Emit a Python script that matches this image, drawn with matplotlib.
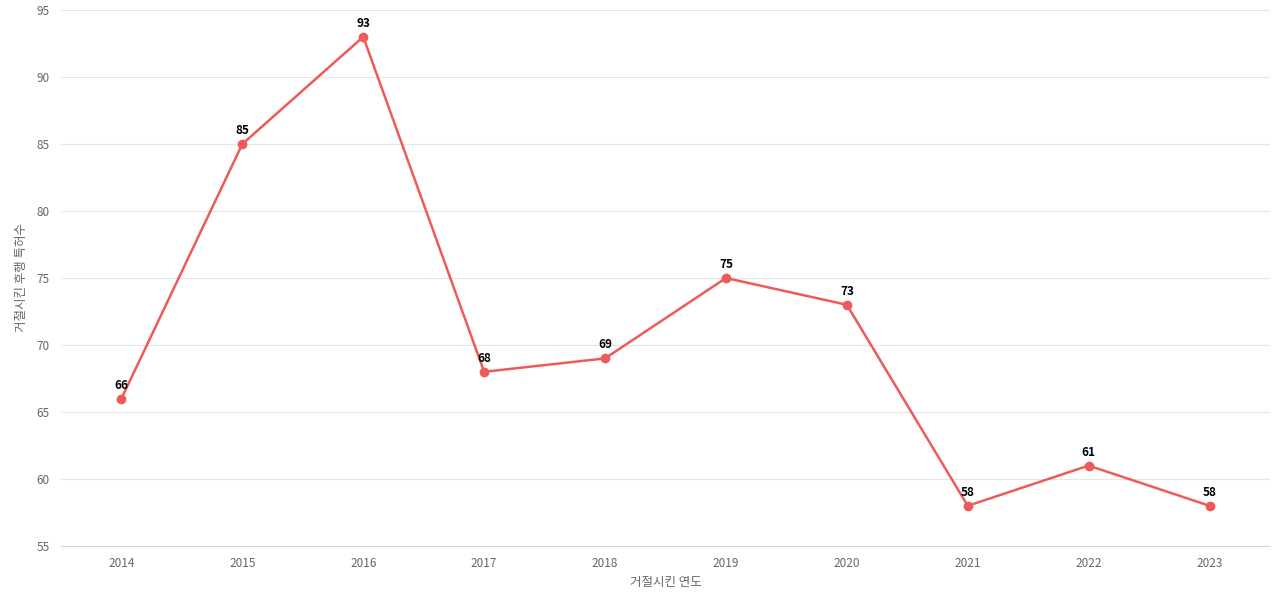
import matplotlib
matplotlib.use("Agg")
import matplotlib.pyplot as plt

plt.rcParams['font.family'] = ['Noto Sans CJK KR', 'DejaVu Sans']

years = ["2014", "2015", "2016", "2017", "2018", "2019", "2020", "2021", "2022", "2023"]
counts = [66, 85, 93, 68, 69, 75, 73, 58, 61, 58]

fig = plt.figure(figsize=(12.8, 6.0), dpi=100)
ax = fig.add_axes([61 / 1280, 54 / 600, 1209 / 1280, 536 / 600])

x = list(range(len(years)))
ax.plot(x, counts, color="#EE5A5A", linewidth=1.8, marker="o", markersize=6, zorder=3)
for xi, yi in zip(x, counts):
    ax.annotate(str(yi), xy=(xi, yi), xytext=(0, 5), textcoords="offset points",
                ha="center", va="bottom", fontsize=8.5, fontweight="bold", color="#000000")

ax.set_xlim(-0.5, 9.5)
ax.set_ylim(55, 95)
ax.set_xticks(x)
ax.set_xticklabels(years)
ax.set_yticks(range(55, 96, 5))
ax.tick_params(length=0, labelsize=8.5, colors="#666666", pad=8)
ax.grid(axis="y", color="#E6E6E6", linewidth=0.8)
ax.set_axisbelow(True)
for s in ["top", "right", "left"]:
    ax.spines[s].set_visible(False)
ax.spines["bottom"].set_color("#CCD6EB")
ax.set_xlabel("거절시킨 연도", fontsize=9, color="#666666", labelpad=4)
ax.set_ylabel("거절시킨 후행 특허수", fontsize=9, color="#666666", labelpad=6)

fig.savefig("out.png", dpi=100)
